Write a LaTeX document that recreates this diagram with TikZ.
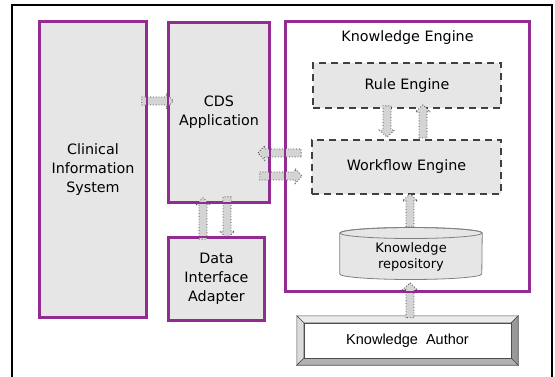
\documentclass[tikz,border=0pt]{standalone}
\usepackage{fontspec}
\setmainfont{DejaVu Sans}
\newfontfamily\authorfont{Liberation Sans}
\usetikzlibrary{calc}

\definecolor{boxline}{HTML}{922B92}
\definecolor{boxfill}{HTML}{E6E6E6}
\definecolor{dashline}{HTML}{404040}
\definecolor{arrfill}{HTML}{D4D4D4}
\definecolor{arrline}{HTML}{3A3A3A}

\tikzset{
  sysbox/.style={draw=boxline, fill=boxfill, line width=1.6pt, inner sep=0pt,
    align=center, font=\fontsize{14.3}{19}\selectfont},
  enginebox/.style={draw=dashline, fill=boxfill, line width=1.8pt,
    dash pattern=on 7pt off 5pt, inner sep=0pt, font=\fontsize{14.3}{19}\selectfont},
  plainlabel/.style={inner sep=0pt, font=\fontsize{14.3}{19}\selectfont},
  blockarr/.style={draw=arrline, fill=arrfill, line width=0.8pt, dotted, line join=miter},
  outline/.style={draw=boxline, line width=1.6pt},
}

% block arrow from tail #1 to tip #2
\newcommand\blockarrow[2]{%
  \coordinate (ba-h) at ($(#2)!7pt!(#1)$);
  \draw[blockarr] ($(#1)!4pt!90:(#2)$) -- ($(ba-h)!4pt!-90:(#1)$)
    -- ($(ba-h)!7.5pt!-90:(#1)$) -- (#2) -- ($(ba-h)!7.5pt!90:(#1)$)
    -- ($(ba-h)!4pt!90:(#1)$) -- ($(#1)!4pt!-90:(#2)$) -- cycle;}

\begin{document}
\begin{tikzpicture}[x=1pt, y=-1pt]
\useasboundingbox (0,0) rectangle (555,377);
\clip (0,0) rectangle (555,377);

% outer frame (runs past the lower edge)
\draw[line width=2pt] (12,395) -- (12,5) -- (552,5) -- (552,395);

% main blocks
\node[sysbox, minimum width=106, minimum height=295] (cis) at (93,169.5)
  {Clinical\\Information\\System};
\node[sysbox, minimum width=100, minimum height=179] (cds) at (219,112.5)
  {CDS\\Application};
\node[sysbox, minimum width=95, minimum height=82] (dia) at (216.5,279)
  {Data\\Interface\\Adapter};
\node[draw=boxline, line width=1.6pt, fill=white, minimum width=243, minimum height=269]
  (ke) at (407.5,156.5) {};
\node[plainlabel] (ketitle) at (ke.north |- 0,38) {Knowledge Engine};
\node[enginebox, minimum width=188, minimum height=45] (rule) at (407,85.5) {Rule Engine};
\node[enginebox, minimum width=189, minimum height=54] (wf) at (406.5,167) {Workflow Engine};

% knowledge repository (cylinder)
\node[minimum width=142, minimum height=52, inner sep=0pt] (repo) at (411,253) {};
\draw[draw=gray, fill=boxfill, line width=0.8pt]
  (repo.west |- 0,233) -- (repo.west |- 0,274)
  arc[start angle=180, end angle=360, x radius=71pt, y radius=5.5pt]
  -- (repo.east |- 0,233)
  arc[start angle=0, end angle=180, x radius=71pt, y radius=5.5pt] -- cycle;
\draw[draw=gray, line width=0.8pt] (411,233) ellipse [x radius=71pt, y radius=5.5pt];
\node[inner sep=0pt, align=center, font=\fontsize{13}{16}\selectfont] at (411,257)
  {Knowledge\\repository};

% knowledge author (bevelled frame)
\node[minimum width=221, minimum height=49, inner sep=0pt,
  font=\authorfont\fontsize{14}{16}\selectfont] (author) at (407.5,340.5) {};
\begin{scope}[draw=black!70, line width=0.6pt]
  \filldraw[fill=black!8] (author.north west) -- (author.north east)
    -- ++(-7,7) -- ($(author.north west)+(7,7)$) -- cycle;
  \filldraw[fill=black!14] (author.north west) -- (author.south west)
    -- ++(7,-7) -- ($(author.north west)+(7,7)$) -- cycle;
  \filldraw[fill=black!40] (author.north east) -- (author.south east)
    -- ++(-7,-7) -- ($(author.north east)+(-7,7)$) -- cycle;
  \filldraw[fill=black!30] (author.south west) -- (author.south east)
    -- ++(-7,-7) -- ($(author.south west)+(7,-7)$) -- cycle;
  \filldraw[fill=white] ($(author.north west)+(7,7)$) rectangle ($(author.south east)+(-7,-7)$);
\end{scope}
\node[font=\authorfont\fontsize{14.5}{16}\selectfont] at (author.center) {Knowledge\ \ Author};

% arrow end points
\path (0,101 -| cis.east) ++(-5,0) coordinate (c2c-a)
      (0,101 -| cds.west) ++(5,0) coordinate (c2c-b)
      (0,153 -| wf.west) ++(-10,0) coordinate (w2c-a)
      (0,153 -| cds.east) ++(-12,0) coordinate (w2c-b)
      (0,176 -| cds.east) ++(-10,0) coordinate (c2w-a)
      (0,176 -| wf.west) ++(-9,0) coordinate (c2w-b)
      (203,0 |- dia.north) ++(0,2) coordinate (d2c-a)
      (203,0 |- cds.south) ++(0,-5) coordinate (d2c-b)
      (227,0 |- cds.south) ++(0,-6) coordinate (c2d-a)
      (227,0 |- dia.north) ++(0,1) coordinate (c2d-b)
      (387,0 |- rule.south) ++(0,-3) coordinate (r2w-a)
      (387,0 |- wf.north) ++(0,-2) coordinate (r2w-b)
      (423,0 |- wf.north) ++(0,-1) coordinate (w2r-a)
      (423,0 |- rule.south) ++(0,-4) coordinate (w2r-b)
      (410,0 |- repo.north) ++(0,0) coordinate (k2w-a)
      (410,0 |- wf.south) ++(0,-1) coordinate (k2w-b)
      (410,0 |- author.north) ++(0,2) coordinate (a2k-a)
      (410,0 |- ke.south) ++(0,-9) coordinate (a2k-b);

\blockarrow{c2c-a}{c2c-b}
\blockarrow{w2c-a}{w2c-b}
\blockarrow{c2w-a}{c2w-b}
\blockarrow{d2c-a}{d2c-b}
\blockarrow{c2d-a}{c2d-b}
\blockarrow{r2w-a}{r2w-b}
\blockarrow{w2r-a}{w2r-b}
\blockarrow{k2w-a}{k2w-b}
\blockarrow{a2k-a}{a2k-b}

% block outlines stay visible over the arrows
\draw[outline] (cis.north west) rectangle (cis.south east);
\draw[outline] (cds.north west) rectangle (cds.south east);
\draw[outline] (dia.north west) rectangle (dia.south east);
\draw[outline] (ke.north west) rectangle (ke.south east);
\end{tikzpicture}
\end{document}
